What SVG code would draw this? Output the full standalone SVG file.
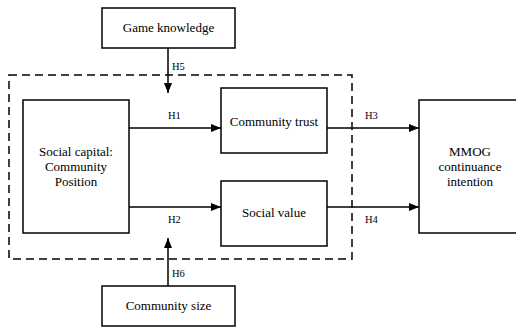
<svg xmlns="http://www.w3.org/2000/svg" width="516" height="327" viewBox="0 0 516 327">
<style>
.box{fill:#fff;stroke:#000;stroke-width:1.5}
.t{font-size:13px;fill:#000;text-anchor:middle}
.h{font-size:10.5px;fill:#000}
.c{stroke:#000;stroke-width:1.5;fill:none}
</style>
<defs>
<marker id="ah" viewBox="0 0 10 8" refX="10" refY="4" markerWidth="10" markerHeight="8" markerUnits="userSpaceOnUse" orient="auto">
<path d="M0,0 L10,4 L0,8 Z" fill="#000"/>
</marker>
</defs>
<rect x="0" y="0" width="516" height="327" fill="#fff"/>
<g font-family="'Liberation Serif', 'DejaVu Serif', serif">
<rect x="9" y="75" width="343" height="184" fill="none" stroke="#000" stroke-width="1.5" stroke-dasharray="8,5"/>
<g id="connectors">
<line class="c" x1="168" y1="48" x2="168" y2="93" marker-end="url(#ah)"/>
<line class="c" x1="168" y1="286" x2="168" y2="238" marker-end="url(#ah)"/>
<line class="c" x1="129" y1="128" x2="221" y2="128" marker-end="url(#ah)"/>
<line class="c" x1="129" y1="207" x2="221" y2="207" marker-end="url(#ah)"/>
<line class="c" x1="327" y1="128" x2="419" y2="128" marker-end="url(#ah)"/>
<line class="c" x1="327" y1="207" x2="419" y2="207" marker-end="url(#ah)"/>
<text class="h" x="172" y="70">H5</text>
<text class="h" x="168" y="119">H1</text>
<text class="h" x="168" y="223">H2</text>
<text class="h" x="365" y="119">H3</text>
<text class="h" x="365" y="223">H4</text>
<text class="h" x="172" y="277">H6</text>
</g>
<g id="game-knowledge">
<rect class="box" x="102" y="8" width="133" height="40"/>
<text class="t" x="168.5" y="32">Game knowledge</text>
</g>
<g id="social-capital">
<rect class="box" x="23" y="100" width="106" height="133"/>
<text class="t" x="76" y="156">Social capital:</text>
<text class="t" x="76" y="171">Community</text>
<text class="t" x="76" y="186">Position</text>
</g>
<g id="community-trust">
<rect class="box" x="221" y="88" width="106" height="65"/>
<text class="t" x="274" y="126">Community trust</text>
</g>
<g id="social-value">
<rect class="box" x="221" y="181" width="106" height="65"/>
<text class="t" x="274" y="217">Social value</text>
</g>
<g id="mmog">
<rect class="box" x="419" y="100" width="110" height="133"/>
<text class="t" x="470" y="156">MMOG</text>
<text class="t" x="470" y="171">continuance</text>
<text class="t" x="470" y="186">intention</text>
</g>
<g id="community-size">
<rect class="box" x="102" y="286" width="133" height="40"/>
<text class="t" x="168.5" y="310">Community size</text>
</g>
</g>
</svg>
